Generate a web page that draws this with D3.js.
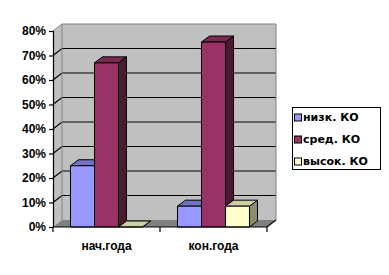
<!DOCTYPE html>
<html><head><meta charset="utf-8">
<script src="https://cdn.jsdelivr.net/npm/d3@7"></script>
<style>body{margin:0;background:#fff}svg{display:block}</style>
</head><body><svg id="c" width="389" height="275"></svg>
<script>
const categories = ["нач.года", "кон.года"];
const seriesNames = ["низк. КО", "сред. КО", "высок. КО"];
const lowValues = [0.25, 0.085];
const midValues = [0.67, 0.755];
const highValues = [0.0, 0.085];
const yTicks = [0, 0.1, 0.2, 0.3, 0.4, 0.5, 0.6, 0.7, 0.8];
const seriesValues = [lowValues, midValues, highValues];
const colors = [
  {front:"#9999ff", top:"#7373c6", side:"#5c5c99"},
  {front:"#993366", top:"#7a2952", side:"#4d1a33"},
  {front:"#ffffcc", top:"#cfcfa6", side:"#8c8c6e"}
];
const font = "'Liberation Sans', Arial, sans-serif";
const legendFont = "'DejaVu Sans', Verdana, sans-serif";
const svg = d3.select("#c");
const L = 53, R = 267, B = 227, T = 31, DX = 9, DY = -7, bdx = 8, bdy = -6;
const y = d3.scaleLinear().domain([0, 0.8]).range([B, T]);
const x0 = d3.scaleBand().domain(categories).range([L, R]);
const x1 = d3.scaleBand().domain(seriesNames).range([0, x0.bandwidth()]).paddingOuter(0.73);
const line = d3.line();

// back wall
svg.append("rect").attr("x", L+DX).attr("y", y(0.8)+DY).attr("width", R-L).attr("height", y(0)-y(0.8))
  .attr("fill", "#c0c0c0");
// side wall
svg.append("path").attr("d", line([[L, y(0.8)], [L+DX, y(0.8)+DY], [L+DX, y(0)+DY], [L, y(0)]])).attr("fill", "#c0c0c0");
// gridlines
yTicks.filter(v => v > 0 && v < 0.8).forEach(v => {
  svg.append("path").attr("d", line([[L, y(v)], [L+DX, y(v)+DY], [R+DX, y(v)+DY]]))
    .attr("fill", "none").attr("stroke", "#000").attr("stroke-width", 1.2);
});
// borders
svg.append("path").attr("d", line([[L, y(0.8)], [L+DX, y(0.8)+DY], [R+DX, y(0.8)+DY], [R+DX, y(0)+DY]]))
  .attr("fill", "none").attr("stroke", "#808080").attr("stroke-width", 1);
svg.append("path").attr("d", line([[L+DX, y(0.8)+DY], [L+DX, y(0)+DY]]))
  .attr("fill", "none").attr("stroke", "#808080").attr("stroke-width", 1);
// floor
svg.append("path").attr("d", line([[L, B], [L+DX, B+DY], [R+DX, B+DY], [R, B]])).attr("fill", "#808080");

// bars
categories.forEach((c, ci) => {
  seriesNames.forEach((s, si) => {
    const v = seriesValues[si][ci];
    const xa = x0(c) + x1(s), xb = xa + x1.bandwidth(), yt = y(v);
    const col = colors[si];
    const g = svg.append("g").attr("stroke", "#000").attr("stroke-width", 1).attr("stroke-linejoin", "round");
    g.append("path").attr("d", line([[xb, yt], [xb+bdx, yt+bdy], [xb+bdx, B+bdy], [xb, B]]) + "Z").attr("fill", col.side);
    g.append("path").attr("d", line([[xa, yt], [xa+bdx, yt+bdy], [xb+bdx, yt+bdy], [xb, yt]]) + "Z").attr("fill", col.top);
    if (v > 0) g.append("rect").attr("x", xa).attr("y", yt).attr("width", xb-xa).attr("height", B-yt).attr("fill", col.front);
  });
});

// y axis
const yAxis = svg.append("g").attr("transform", `translate(${L},0)`)
  .call(d3.axisLeft(y).tickValues(yTicks).tickFormat(d3.format(".0%")).tickSize(4).tickPadding(3));
yAxis.select(".domain").attr("stroke", "#000").attr("stroke-width", 1.2);
yAxis.selectAll(".tick line").attr("stroke", "#000").attr("stroke-width", 1.2);
yAxis.selectAll("text").attr("font-family", font).attr("font-weight", "bold").attr("font-size", 12).attr("fill", "#000");

// x axis
const xAxis = svg.append("g").attr("transform", `translate(0,${B})`)
  .call(d3.axisBottom(x0).tickSize(0).tickPadding(14));
xAxis.select(".domain").remove();
xAxis.selectAll("text").attr("font-family", font).attr("font-weight", "bold").attr("font-size", 12).attr("fill", "#000");
svg.append("path").attr("d", line([[L, B], [R, B], [R+DX, B+DY]])).attr("fill", "none").attr("stroke", "#000").attr("stroke-width", 1.2);
[L, (L+R)/2, R].forEach(t => svg.append("line").attr("x1", t).attr("x2", t).attr("y1", B).attr("y2", B+5)
  .attr("stroke", "#000").attr("stroke-width", 1.2));

// legend
const lg = svg.append("g");
lg.append("rect").attr("x", 292.5).attr("y", 107.5).attr("width", 88).attr("height", 62)
  .attr("fill", "#fff").attr("stroke", "#000").attr("stroke-width", 1);
seriesNames.forEach((s, i) => {
  const cy = 117.5 + i * 22;
  lg.append("rect").attr("x", 294.5).attr("y", cy - 3.5).attr("width", 7).attr("height", 7)
    .attr("fill", colors[i].front).attr("stroke", "#000").attr("stroke-width", 1);
  lg.append("text").attr("x", 303).attr("y", cy).attr("dy", "0.35em").text(s)
    .attr("font-family", legendFont).attr("font-weight", "bold").attr("font-size", 11).attr("fill", "#000");
});
</script></body></html>
